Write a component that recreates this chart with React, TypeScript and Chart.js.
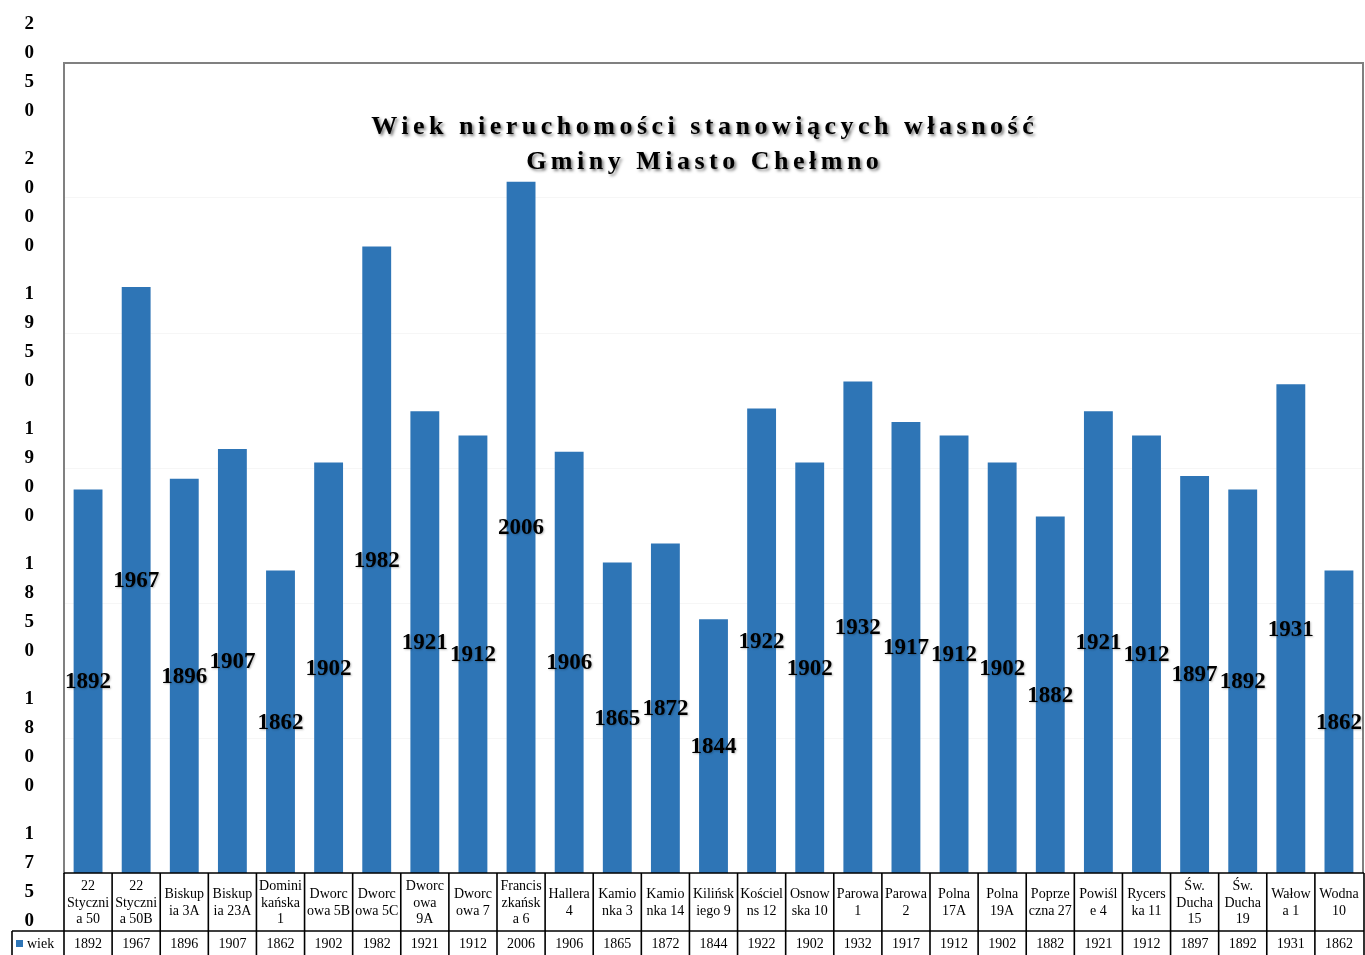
import React, { useEffect, useRef } from 'react';
import { Chart, registerables } from 'chart.js';

Chart.register(...registerables);

// ---- data ----
const categories: string[][] = [
  ['22', 'Styczni', 'a 50'],
  ['22', 'Styczni', 'a 50B'],
  ['Biskup', 'ia 3A'],
  ['Biskup', 'ia 23A'],
  ['Domini', 'kańska', '1'],
  ['Dworc', 'owa 5B'],
  ['Dworc', 'owa 5C'],
  ['Dworc', 'owa', '9A'],
  ['Dworc', 'owa 7'],
  ['Francis', 'zkańsk', 'a 6'],
  ['Hallera', '4'],
  ['Kamio', 'nka 3'],
  ['Kamio', 'nka 14'],
  ['Kilińsk', 'iego 9'],
  ['Kościel', 'ns 12'],
  ['Osnow', 'ska 10'],
  ['Parowa', '1'],
  ['Parowa', '2'],
  ['Polna', '17A'],
  ['Polna', '19A'],
  ['Poprze', 'czna 27'],
  ['Powiśl', 'e 4'],
  ['Rycers', 'ka 11'],
  ['Św.', 'Ducha', '15'],
  ['Św.', 'Ducha', '19'],
  ['Wałow', 'a 1'],
  ['Wodna', '10'],
];

const values: number[] = [
  1892, 1967, 1896, 1907, 1862, 1902, 1982, 1921, 1912, 2006, 1906, 1865, 1872, 1844,
  1922, 1902, 1932, 1917, 1912, 1902, 1882, 1921, 1912, 1897, 1892, 1931, 1862,
];

const seriesName = 'wiek';
const titleLines: string[] = ['Wiek nieruchomości stanowiących własność', 'Gminy Miasto Chełmno'];
const yMin = 1750;
const yMax = 2050;
const yStep = 50;

const BLUE = '#2e75b6';
const SERIF = '"Liberation Serif", "Times New Roman", serif';

const overlayPlugin = {
  id: 'overlay',
  afterDraw(chart: any) {
    const ctx: CanvasRenderingContext2D = chart.ctx;
    const ca = chart.chartArea;
    const xs = chart.scales.x;
    const meta = chart.getDatasetMeta(0);
    const W = chart.width;
    const H = chart.height;

    // plot frame (top & right)
    ctx.save();
    ctx.strokeStyle = '#808080';
    ctx.lineWidth = 2;
    ctx.beginPath();
    ctx.moveTo(ca.left, ca.top);
    ctx.lineTo(ca.right, ca.top);
    ctx.lineTo(ca.right, ca.bottom);
    ctx.stroke();
    ctx.restore();

    // data labels
    ctx.save();
    ctx.font = 'bold 23px ' + SERIF;
    ctx.fillStyle = '#000';
    ctx.textAlign = 'center';
    ctx.textBaseline = 'middle';
    ctx.shadowColor = 'rgba(0,0,0,0.25)';
    ctx.shadowBlur = 2;
    ctx.shadowOffsetX = 1;
    ctx.shadowOffsetY = 1;
    meta.data.forEach((bar: any, i: number) => {
      const bx = bar.x as number;
      const by = bar.y as number;
      ctx.fillText(String(values[i]), bx, (by + ca.bottom) / 2 + 1);
    });
    ctx.restore();

    // title
    ctx.save();
    ctx.font = 'bold 26px ' + SERIF;
    ctx.fillStyle = '#000';
    ctx.textAlign = 'left';
    ctx.textBaseline = 'alphabetic';
    const natural = ctx.measureText(titleLines[0]).width;
    const targetW = (ca.right - ca.left) * 0.51;
    const ls = Math.max(0, (targetW - natural) / (titleLines[0].length - 1));
    (ctx as any).letterSpacing = ls + 'px';
    ctx.shadowColor = 'rgba(0,0,0,0.5)';
    ctx.shadowBlur = 3;
    ctx.shadowOffsetX = 2;
    ctx.shadowOffsetY = 2;
    const cx = (ca.left + ca.right) / 2 - 11;
    const baselines = [ca.top + 71, ca.top + 106];
    titleLines.forEach((t, k) => {
      const w = ctx.measureText(t).width - ls;
      ctx.fillText(t, cx - w / 2, baselines[k]);
    });
    ctx.restore();

    // data table
    const colW = xs.getPixelForValue(1) - xs.getPixelForValue(0);
    const rowTop = ca.bottom;
    const rowMid = ca.bottom + 58;
    const bottom = H;
    const rightEdge = W - 1;
    ctx.save();
    ctx.strokeStyle = '#000';
    ctx.lineWidth = 1.6;
    ctx.beginPath();
    ctx.moveTo(ca.left, rowTop);
    ctx.lineTo(rightEdge, rowTop);
    ctx.moveTo(12, rowMid);
    ctx.lineTo(rightEdge, rowMid);
    ctx.moveTo(12, rowMid);
    ctx.lineTo(12, bottom);
    for (let i = 0; i <= categories.length; i++) {
      const bx = i === categories.length ? rightEdge : xs.getPixelForValue(i) - colW / 2;
      ctx.moveTo(bx, rowTop);
      ctx.lineTo(bx, bottom);
    }
    ctx.stroke();

    ctx.fillStyle = '#000';
    ctx.font = '14px ' + SERIF;
    ctx.textAlign = 'center';
    ctx.textBaseline = 'middle';
    const lh = 16.5;
    const catCenter = (rowTop + rowMid) / 2 + 1;
    categories.forEach((lines, i) => {
      const x = xs.getPixelForValue(i);
      const y0 = catCenter - ((lines.length - 1) * lh) / 2;
      lines.forEach((ln, k) => ctx.fillText(ln, x, y0 + k * lh));
      ctx.fillText(String(values[i]), x, rowMid + 13);
    });
    // legend key cell
    ctx.fillStyle = BLUE;
    ctx.fillRect(16, rowMid + 9, 7, 7);
    ctx.fillStyle = '#000';
    ctx.textAlign = 'left';
    ctx.fillText(seriesName, 27, rowMid + 13);
    ctx.restore();
  },
};

export default function App() {
  const ref = useRef<HTMLCanvasElement | null>(null);

  useEffect(() => {
    if (!ref.current) return;
    const chart = new Chart(ref.current, {
      type: 'bar',
      data: {
        labels: categories.map((c) => c.join(' ')),
        datasets: [
          {
            label: seriesName,
            data: values,
            backgroundColor: BLUE,
            borderWidth: 0,
            barPercentage: 0.6,
            categoryPercentage: 1,
          },
        ],
      },
      options: {
        responsive: false,
        animation: false,
        devicePixelRatio: 1,
        layout: { padding: { top: 63, right: 2, left: 0, bottom: 0 } },
        plugins: {
          legend: { display: false },
          title: { display: false },
          tooltip: { enabled: false },
        },
        scales: {
          x: {
            display: true,
            grid: { display: false },
            border: { display: false },
            ticks: { display: false },
            afterFit: (s: any) => {
              s.height = 82;
            },
          },
          y: {
            min: yMin,
            max: yMax,
            grid: {
              color: 'rgba(0,0,0,0.035)',
              drawTicks: true,
              tickLength: 30,
              tickColor: 'rgba(0,0,0,0)',
            },
            border: { display: true, color: '#808080', width: 2 },
            ticks: {
              stepSize: yStep,
              crossAlign: 'center',
              padding: 0,
              labelOffset: 5,
              color: '#000',
              font: { family: SERIF, size: 19, weight: 'bold', lineHeight: '29px' },
              callback: (v: any) => String(v).split(''),
            },
            afterFit: (s: any) => {
              s.width = 64;
            },
          },
        },
      },
      plugins: [overlayPlugin],
    });
    return () => chart.destroy();
  }, []);

  return (
    <div style={{ position: 'fixed', left: 0, top: 0, width: 1365, height: 955, background: '#fff' }}>
      <canvas ref={ref} width={1365} height={955} style={{ display: 'block' }} />
    </div>
  );
}
